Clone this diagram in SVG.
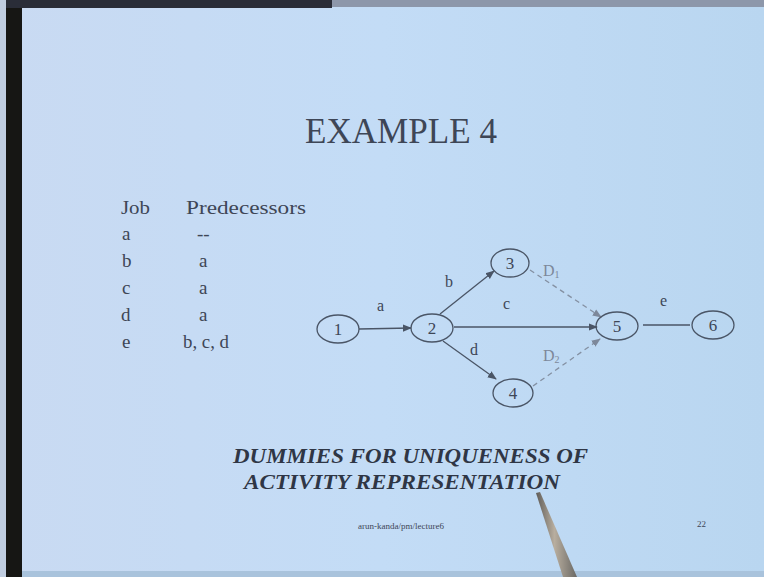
<svg xmlns="http://www.w3.org/2000/svg" width="764" height="577" viewBox="0 0 764 577">
<defs>
<linearGradient id="bg" x1="0" y1="0" x2="1" y2="0">
<stop offset="0" stop-color="#c9daf2"/>
<stop offset="0.5" stop-color="#c3dcf6"/>
<stop offset="1" stop-color="#b9d6f0"/>
</linearGradient>
<linearGradient id="pen" x1="0" y1="0" x2="1" y2="0">
<stop offset="0" stop-color="#5f5c58"/>
<stop offset="0.45" stop-color="#b8ae9f"/>
<stop offset="1" stop-color="#6a6864"/>
</linearGradient>
<marker id="arr" viewBox="0 0 10 10" refX="9" refY="5" markerWidth="7" markerHeight="7" orient="auto">
<path d="M0,1 L10,5 L0,9 z" fill="#4a5566"/>
</marker>
<marker id="arrd" viewBox="0 0 10 10" refX="9" refY="5" markerWidth="7" markerHeight="7" orient="auto">
<path d="M0,1 L10,5 L0,9 z" fill="#7d889a"/>
</marker>
</defs>
<style>
.t{font-family:"Liberation Serif","Times New Roman",serif;fill:#3e4656}
.tb{font-family:"Liberation Serif","Times New Roman",serif;font-weight:bold;font-style:italic;fill:#2f3645;font-size:21px}
.tab{font-size:19px}
.node ellipse{fill:none;stroke:#4a5566;stroke-width:1.3}
.node text{font-family:"Liberation Serif","Times New Roman",serif;font-size:17px;fill:#3e4656;text-anchor:middle}
.e{stroke:#4a5566;stroke-width:1.3;fill:none}
.d{stroke:#8490a2;stroke-width:1.3;stroke-dasharray:5,4;fill:none}
.lbl{font-family:"Liberation Serif","Times New Roman",serif;font-size:16px;fill:#3e4656}
.dl{fill:#7d889a}
</style>
<rect width="764" height="577" fill="url(#bg)"/>
<rect x="0" y="0" width="6" height="577" fill="#c0cde0"/>
<rect x="6" y="0" width="16" height="577" fill="#161614"/>
<rect x="6" y="0" width="326" height="8" fill="#2a2d38"/>
<rect x="332" y="0" width="432" height="7" fill="#8d97aa"/>
<rect x="22" y="571" width="742" height="6" fill="#a9c3dc"/>

<text class="t" x="401" y="143" font-size="36" text-anchor="middle" textLength="192" lengthAdjust="spacingAndGlyphs">EXAMPLE 4</text>

<g id="table" class="t tab">
<text x="121" y="214" textLength="29" lengthAdjust="spacingAndGlyphs">Job</text><text x="186" y="214" textLength="120" lengthAdjust="spacingAndGlyphs">Predecessors</text>
<text x="122" y="240">a</text><text x="197" y="240">--</text>
<text x="122" y="267">b</text><text x="199" y="267">a</text>
<text x="122" y="294">c</text><text x="199" y="294">a</text>
<text x="121" y="321">d</text><text x="199" y="321">a</text>
<text x="122" y="348">e</text><text x="183" y="348" textLength="46" lengthAdjust="spacingAndGlyphs">b, c, d</text>
</g>

<g id="connectors">
<line class="e" x1="359" y1="329" x2="411" y2="328" marker-end="url(#arr)"/>
<line class="e" x1="440" y1="314" x2="494" y2="271" marker-end="url(#arr)"/>
<line class="e" x1="454" y1="327" x2="597" y2="327" marker-end="url(#arr)"/>
<line class="e" x1="443" y1="341" x2="496" y2="379" marker-end="url(#arr)"/>
<line class="d" x1="530" y1="270" x2="601" y2="317" marker-end="url(#arrd)"/>
<line class="d" x1="533" y1="386" x2="600" y2="339" marker-end="url(#arrd)"/>
<line class="e" x1="643" y1="325" x2="690" y2="325"/>
<text class="lbl" x="377" y="311">a</text>
<text class="lbl" x="445" y="287">b</text>
<text class="lbl" x="503" y="309">c</text>
<text class="lbl" x="470" y="355">d</text>
<text class="lbl" x="660" y="306">e</text>
<text class="lbl dl" x="543" y="276">D<tspan font-size="10" dy="2">1</tspan></text>
<text class="lbl dl" x="543" y="361">D<tspan font-size="10" dy="2">2</tspan></text>
</g>

<g id="n1" class="node"><ellipse cx="338" cy="329" rx="21" ry="14"/><text x="338" y="335">1</text></g>
<g id="n2" class="node"><ellipse cx="432" cy="328" rx="21" ry="14"/><text x="432" y="334">2</text></g>
<g id="n3" class="node"><ellipse cx="510" cy="263" rx="19" ry="14"/><text x="510" y="269">3</text></g>
<g id="n4" class="node"><ellipse cx="513" cy="393" rx="20" ry="14"/><text x="513" y="399">4</text></g>
<g id="n5" class="node"><ellipse cx="617" cy="326" rx="21" ry="14"/><text x="617" y="332">5</text></g>
<g id="n6" class="node"><ellipse cx="713" cy="325" rx="21" ry="14"/><text x="713" y="331">6</text></g>

<text class="tb" x="233" y="463" textLength="355" lengthAdjust="spacingAndGlyphs">DUMMIES FOR UNIQUENESS OF</text>
<text class="tb" x="244" y="489" textLength="316" lengthAdjust="spacingAndGlyphs">ACTIVITY REPRESENTATION</text>
<text class="t" x="358" y="529" font-size="9" fill="#5a6270">arun-kanda/pm/lecture6</text>
<text class="t" x="697" y="527" font-size="9" fill="#5a6270">22</text>

<polygon points="536,493 540,492 577,577 563,577" fill="url(#pen)"/>
</svg>
